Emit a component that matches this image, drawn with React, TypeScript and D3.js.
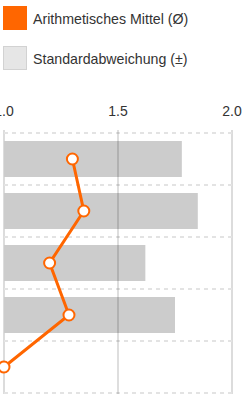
import React from "react";
import * as d3 from "d3";

const rows = ["A", "B", "C", "D", "E"];
const means = [1.3, 1.35, 1.2, 1.285, 1.0];
const deviations: (number | null)[] = [1.78, 1.85, 1.62, 1.75, null];
const ticks = [1.0, 1.5, 2.0];

const legendItems = [
  { label: "Arithmetisches Mittel (Ø)", fill: "#ff6600", stroke: "#ff6600" },
  { label: "Standardabweichung (±)", fill: "#e6e6e6", stroke: "#d2d2d2" },
];

const W = 245;
const H = 394;

const App = () => {
  const x = d3.scaleLinear().domain([1, 2]).range([4, 232]);
  const y = d3.scaleBand().domain(rows).range([133, 393]).paddingInner(0).paddingOuter(0);
  const bw = y.bandwidth();
  const barH = 36;

  const line = d3
    .line<number>()
    .x((d) => x(d))
    .y((_, i) => (y(rows[i]) as number) + bw / 2);

  return (
    <svg
      width={W}
      height={H}
      style={{ position: "absolute", left: 0, top: 0, fontFamily: "'Liberation Sans', Arial, sans-serif" }}
    >
      {legendItems.map((it, i) => (
        <g key={it.label} transform={`translate(0, ${6 + i * 40})`}>
          <rect x={3.5} y={0.5} width={23} height={23} fill={it.fill} stroke={it.stroke} />
          <text x={33} y={18} fontSize={14.2} fill="#333">
            {it.label}
          </text>
        </g>
      ))}

      {ticks.map((t) => (
        <text key={t} x={x(t)} y={116} fontSize={14} fill="#333" textAnchor="middle">
          {t.toFixed(1)}
        </text>
      ))}

      {/* outer grid lines */}
      {[1, 2].map((t) => (
        <line key={t} x1={x(t)} x2={x(t)} y1={130} y2={H} stroke="#dcdcdc" strokeWidth={2} />
      ))}

      {/* row separators */}
      {rows.concat(["end"]).map((r, i) => {
        const yy = i < rows.length ? (y(r) as number) : 393;
        return (
          <line
            key={r}
            x1={x(1)}
            x2={x(2)}
            y1={yy}
            y2={yy}
            stroke="#e3e3e3"
            strokeWidth={2}
            strokeDasharray="4,4"
          />
        );
      })}

      {/* standard deviation bars */}
      {deviations.map((d, i) =>
        d == null ? null : (
          <rect
            key={rows[i]}
            x={x(1)}
            y={(y(rows[i]) as number) + (bw - barH) / 2}
            width={x(d) - x(1)}
            height={barH}
            fill="#cccccc"
          />
        )
      )}

      <line x1={x(1.5)} x2={x(1.5)} y1={130} y2={H} stroke="rgba(0,0,0,0.13)" strokeWidth={2} />

      <path d={line(means) || ""} fill="none" stroke="#ff6600" strokeWidth={3} />
      {means.map((m, i) => (
        <circle
          key={rows[i]}
          cx={x(m)}
          cy={(y(rows[i]) as number) + bw / 2}
          r={5.5}
          fill="#fff"
          stroke="#ff6600"
          strokeWidth={2}
        />
      ))}
    </svg>
  );
};

export default App;
